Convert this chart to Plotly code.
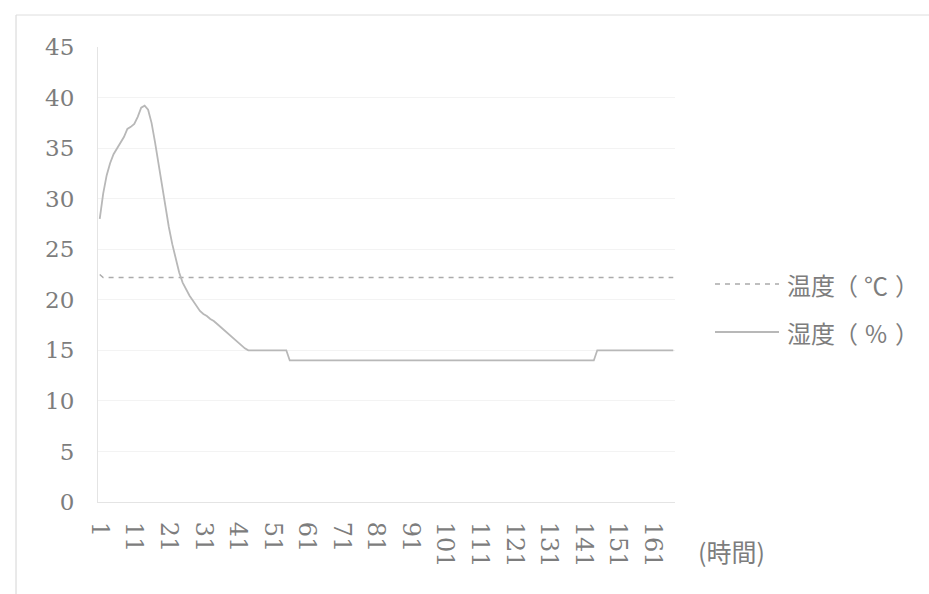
import plotly.graph_objects as go

# Hourly readings (hour index 1..167)
hours = list(range(1, 168))

humidity = [
    28.0, 30.5, 32.3, 33.5, 34.4, 35.0, 35.6, 36.1, 36.9, 37.1,   # 1-10
    37.4, 38.1, 39.0, 39.2, 38.8, 37.5, 35.6, 33.4, 31.4, 29.4,   # 11-20
    27.2, 25.5, 24.0, 22.7, 21.7, 21.0, 20.4, 19.9, 19.4, 18.9,   # 21-30
    18.6, 18.4, 18.1, 17.9, 17.6, 17.3, 17.0, 16.7, 16.4, 16.1,   # 31-40
    15.8, 15.5, 15.2, 15.0, 15.0, 15.0, 15.0, 15.0, 15.0, 15.0,   # 41-50
    15.0, 15.0, 15.0, 15.0, 15.0, 14.0, 14.0, 14.0, 14.0, 14.0,   # 51-60
    14.0, 14.0, 14.0, 14.0, 14.0, 14.0, 14.0, 14.0, 14.0, 14.0,   # 61-70
    14.0, 14.0, 14.0, 14.0, 14.0, 14.0, 14.0, 14.0, 14.0, 14.0,   # 71-80
    14.0, 14.0, 14.0, 14.0, 14.0, 14.0, 14.0, 14.0, 14.0, 14.0,   # 81-90
    14.0, 14.0, 14.0, 14.0, 14.0, 14.0, 14.0, 14.0, 14.0, 14.0,   # 91-100
    14.0, 14.0, 14.0, 14.0, 14.0, 14.0, 14.0, 14.0, 14.0, 14.0,   # 101-110
    14.0, 14.0, 14.0, 14.0, 14.0, 14.0, 14.0, 14.0, 14.0, 14.0,   # 111-120
    14.0, 14.0, 14.0, 14.0, 14.0, 14.0, 14.0, 14.0, 14.0, 14.0,   # 121-130
    14.0, 14.0, 14.0, 14.0, 14.0, 14.0, 14.0, 14.0, 14.0, 14.0,   # 131-140
    14.0, 14.0, 14.0, 14.0, 15.0, 15.0, 15.0, 15.0, 15.0, 15.0,   # 141-150
    15.0, 15.0, 15.0, 15.0, 15.0, 15.0, 15.0, 15.0, 15.0, 15.0,   # 151-160
    15.0, 15.0, 15.0, 15.0, 15.0, 15.0, 15.0,                     # 161-167
]

temperature = [
    22.5, 22.2, 22.2, 22.2, 22.2, 22.2, 22.2, 22.2, 22.2, 22.2,   # 1-10
    22.2, 22.2, 22.2, 22.2, 22.2, 22.2, 22.2, 22.2, 22.2, 22.2,   # 11-20
    22.2, 22.2, 22.2, 22.2, 22.2, 22.2, 22.2, 22.2, 22.2, 22.2,   # 21-30
    22.2, 22.2, 22.2, 22.2, 22.2, 22.2, 22.2, 22.2, 22.2, 22.2,   # 31-40
    22.2, 22.2, 22.2, 22.2, 22.2, 22.2, 22.2, 22.2, 22.2, 22.2,   # 41-50
    22.2, 22.2, 22.2, 22.2, 22.2, 22.2, 22.2, 22.2, 22.2, 22.2,   # 51-60
    22.2, 22.2, 22.2, 22.2, 22.2, 22.2, 22.2, 22.2, 22.2, 22.2,   # 61-70
    22.2, 22.2, 22.2, 22.2, 22.2, 22.2, 22.2, 22.2, 22.2, 22.2,   # 71-80
    22.2, 22.2, 22.2, 22.2, 22.2, 22.2, 22.2, 22.2, 22.2, 22.2,   # 81-90
    22.2, 22.2, 22.2, 22.2, 22.2, 22.2, 22.2, 22.2, 22.2, 22.2,   # 91-100
    22.2, 22.2, 22.2, 22.2, 22.2, 22.2, 22.2, 22.2, 22.2, 22.2,   # 101-110
    22.2, 22.2, 22.2, 22.2, 22.2, 22.2, 22.2, 22.2, 22.2, 22.2,   # 111-120
    22.2, 22.2, 22.2, 22.2, 22.2, 22.2, 22.2, 22.2, 22.2, 22.2,   # 121-130
    22.2, 22.2, 22.2, 22.2, 22.2, 22.2, 22.2, 22.2, 22.2, 22.2,   # 131-140
    22.2, 22.2, 22.2, 22.2, 22.2, 22.2, 22.2, 22.2, 22.2, 22.2,   # 141-150
    22.2, 22.2, 22.2, 22.2, 22.2, 22.2, 22.2, 22.2, 22.2, 22.2,   # 151-160
    22.2, 22.2, 22.2, 22.2, 22.2, 22.2, 22.2,                     # 161-167
]

x_tick_values = [1, 11, 21, 31, 41, 51, 61, 71, 81, 91, 101, 111, 121, 131, 141, 151, 161]
x_tick_labels = ["1", "11", "21", "31", "41", "51", "61", "71", "81", "91",
                 "101", "111", "121", "131", "141", "151", "161"]
y_tick_values = [0, 5, 10, 15, 20, 25, 30, 35, 40, 45]

# legend entries: series name and its unit, each unit set in full-width brackets
series_names = ["温度", "湿度"]
series_units = ["℃", "%"]
x_axis_title = "(時間)"

W, H = 929, 594
L, R, T, B = 98, 254, 47, 92
PW, PH = W - L - R, H - T - B


def px_x(p):
    return (p - L) / PW


def px_y(p):
    return (H - B - p) / PH


TEXT = "#7d7d7d"
SERIF = "DejaVu Serif, Liberation Serif, serif"
CJK = "Noto Sans CJK JP, Noto Sans CJK SC, sans-serif"
TEMP_COLOR = "#ababab"
HUM_COLOR = "#b8b8b8"

fig = go.Figure()
fig.add_trace(go.Scatter(
    x=hours, y=temperature, mode="lines", name=series_names[0],
    line=dict(color=TEMP_COLOR, width=1.5, dash="5px,5px"),
))
fig.add_trace(go.Scatter(
    x=hours, y=humidity, mode="lines", name=series_names[1],
    line=dict(color=HUM_COLOR, width=1.8),
))

shapes = [
    # chart frame (left and top edges)
    dict(type="line", xref="paper", yref="paper",
         x0=px_x(16), x1=px_x(16), y0=px_y(15), y1=px_y(600),
         line=dict(color="#d4d4d4", width=1)),
    dict(type="line", xref="paper", yref="paper",
         x0=px_x(16), x1=px_x(935), y0=px_y(15), y1=px_y(15),
         line=dict(color="#dedede", width=1)),
    # legend keys
    dict(type="line", xref="paper", yref="paper",
         x0=px_x(715), x1=px_x(779), y0=px_y(284), y1=px_y(284),
         line=dict(color=TEMP_COLOR, width=1.5, dash="5px,5px")),
    dict(type="line", xref="paper", yref="paper",
         x0=px_x(715), x1=px_x(779), y0=px_y(332), y1=px_y(332),
         line=dict(color=HUM_COLOR, width=1.8)),
]

legend_font = dict(family=CJK, size=24, color=TEXT)
annotations = []
for row_y, name, unit in zip([284, 332], series_names, series_units):
    annotations += [
        dict(text=name, xref="paper", yref="paper",
             x=px_x(785), y=px_y(row_y), xanchor="left", yanchor="middle",
             showarrow=False, font=legend_font),
        dict(text="（", xref="paper", yref="paper",
             x=px_x(860), y=px_y(row_y), xanchor="right", yanchor="middle",
             showarrow=False, font=legend_font),
        dict(text=unit, xref="paper", yref="paper",
             x=px_x(876), y=px_y(row_y), xanchor="center", yanchor="middle",
             showarrow=False, font=legend_font),
        dict(text="）", xref="paper", yref="paper",
             x=px_x(893), y=px_y(row_y), xanchor="left", yanchor="middle",
             showarrow=False, font=legend_font),
    ]
annotations.append(
    dict(text=x_axis_title, xref="paper", yref="paper",
         x=px_x(696), y=px_y(551), xanchor="left", yanchor="middle",
         showarrow=False, font=dict(family=CJK, size=25, color=TEXT))
)

fig.update_layout(
    width=W, height=H,
    margin=dict(l=L, r=R, t=T, b=B),
    paper_bgcolor="white", plot_bgcolor="white",
    showlegend=False,
    shapes=shapes,
    annotations=annotations,
)
fig.update_xaxes(
    range=[0.5, 167.5],
    tickmode="array", tickvals=x_tick_values, ticktext=x_tick_labels,
    tickangle=90,
    tickfont=dict(family=SERIF, size=24, color=TEXT),
    ticklabelstandoff=14,
    showgrid=False, zeroline=False,
    showline=True, linecolor="#e4e4e4", linewidth=1,
    ticks="",
)
fig.update_yaxes(
    range=[0, 45],
    tickmode="array", tickvals=y_tick_values,
    tickfont=dict(family=SERIF, size=23, color=TEXT),
    ticklabelstandoff=18,
    showgrid=True, gridcolor="#f3f3f3", gridwidth=1,
    zeroline=False,
    showline=True, linecolor="#e4e4e4", linewidth=1,
    ticks="",
)

fig.write_html("out.html")
